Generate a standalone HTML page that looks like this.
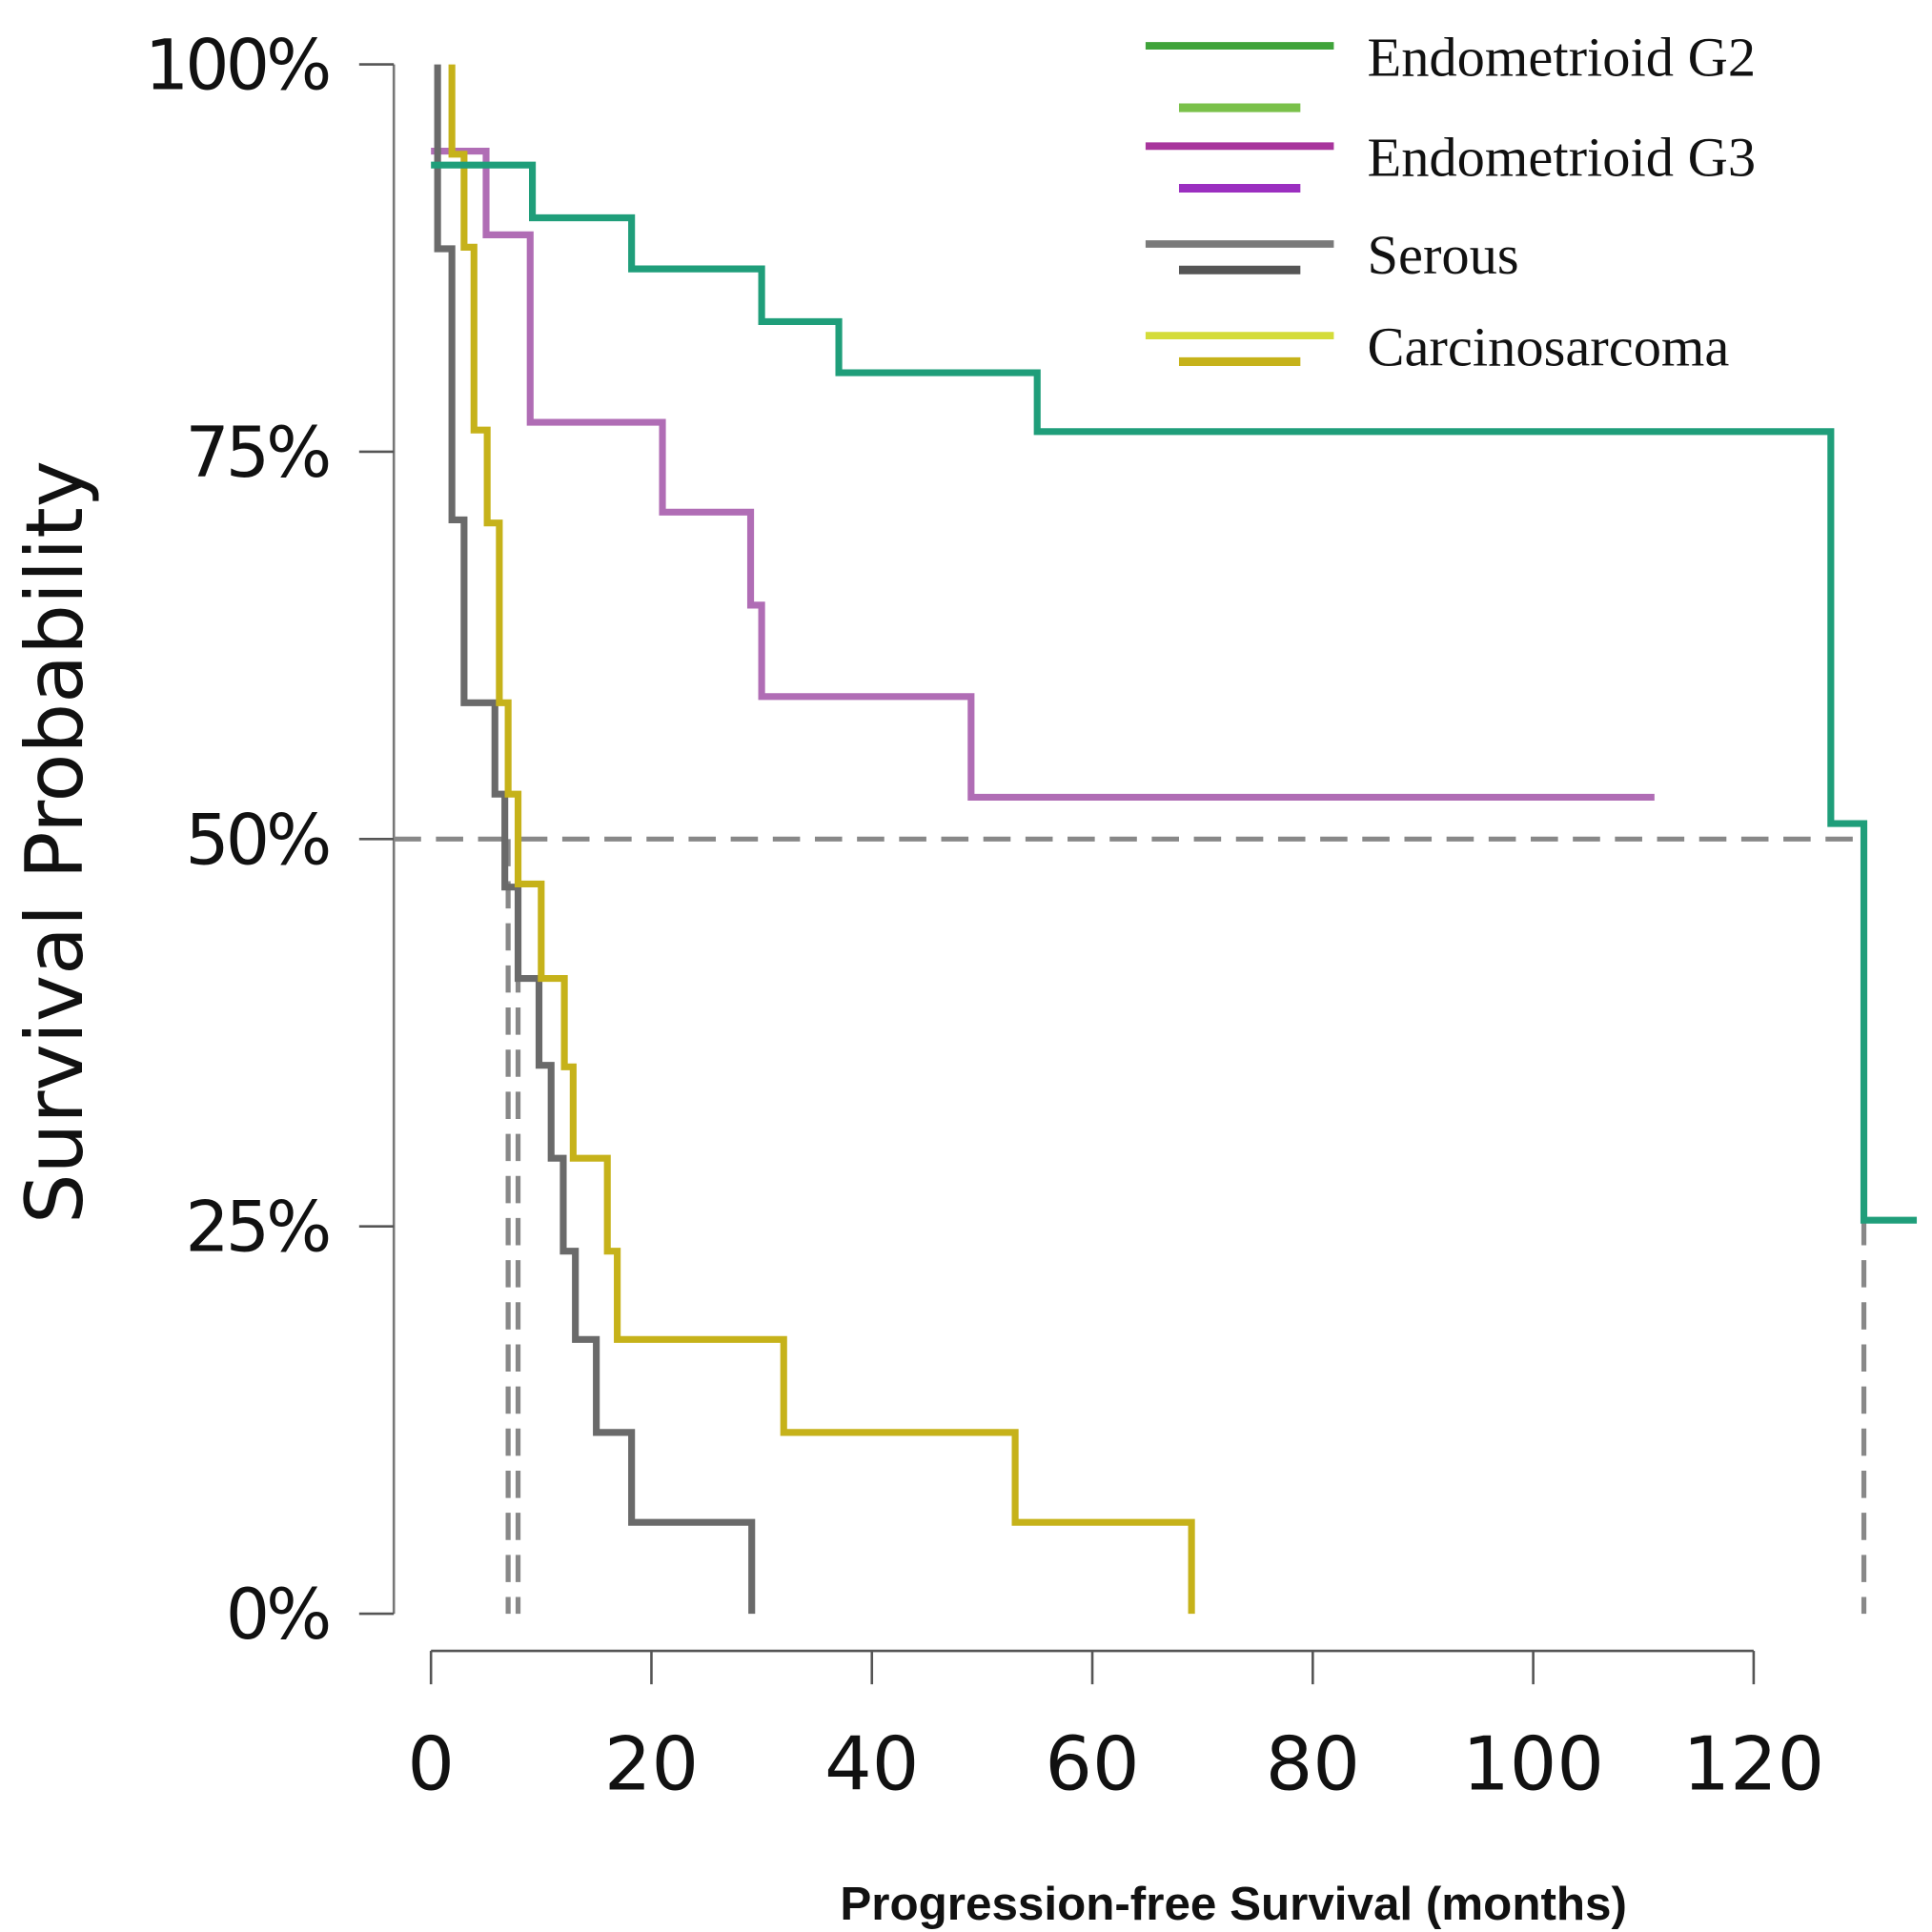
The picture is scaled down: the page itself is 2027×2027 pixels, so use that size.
<!DOCTYPE html>
<html><head><meta charset="utf-8"><style>
html,body{margin:0;padding:0;background:#fff}
svg{display:block}
</style></head><body>
<svg id="chart" width="2027" height="2027" viewBox="0 0 1560 1560" xmlns="http://www.w3.org/2000/svg">
<rect width="1560" height="1560" fill="#fff"/>
<g id="axes"></g>
<g id="series"></g>
<g id="legend"></g>
<text transform="translate(66,680) rotate(-90)" text-anchor="middle" font-family="DejaVu Sans, Liberation Sans, sans-serif" font-size="64" fill="#111">Survival Probability</text>
<text x="996" y="1550" text-anchor="middle" font-family="Liberation Sans, sans-serif" font-weight="bold" font-size="38" fill="#111">Progression-free Survival (months)</text>
</svg>
<script>
const xTicks=[0,20,40,60,80,100,120];
const yTicks=[0,25,50,75,100];
const yTickLabels=["0%","25%","50%","75%","100%"];
const g2Times=[0,9.2,18.2,30,37,55,127,130,134.8];
const g2Surv=[93.5,90.1,86.8,83.4,80.1,76.3,51,25.4,25.4];
const g3Times=[0,5,9,21,29,30,49,111];
const g3Surv=[94.4,89.0,76.9,71.1,65.1,59.2,52.7,52.7];
const serTimes=[0.6,1.9,3,5.8,6.7,7.9,9.8,10.9,12,13.1,15,18.2,29.1];
const serSurv=[88.1,70.6,58.8,52.9,46.9,41,35.4,29.4,23.4,17.7,11.7,5.9,0];
const carTimes=[1.9,3,3.9,5.1,6.2,7,7.9,10,12.1,12.9,16,16.9,32,53,69];
const carSurv=[94.2,88.2,76.4,70.4,58.8,52.9,47.1,41,35.3,29.4,23.4,17.7,11.7,5.9,0];
const medians=[7,7.9,130];
const NS="http://www.w3.org/2000/svg";
const X=m=>348+m*8.9, Y=p=>1303-p*12.51;
function mk(tag,attrs,parent){const e=document.createElementNS(NS,tag);for(const k in attrs)e.setAttribute(k,attrs[k]);parent.appendChild(e);return e;}
const axes=document.getElementById('axes');
let a=mk('line',{x1:318,y1:Y(100),x2:318,y2:Y(0),stroke:'#777','stroke-width':2},axes);


yTicks.forEach((v,i)=>{
 const t=mk('line',{x1:290,x2:318,y1:Y(v),y2:Y(v),stroke:'#555','stroke-width':2},axes);
 
 
 const l=mk('text',{x:265,y:Y(v)+20,'text-anchor':'end','font-family':'DejaVu Sans, Liberation Sans, sans-serif','font-size':56,'letter-spacing':-3,fill:'#111'},axes);
 l.textContent=yTickLabels[i];
 
 
});
a=mk('line',{x1:X(0),y1:1333,x2:X(120),y2:1333,stroke:'#555','stroke-width':2},axes);


xTicks.forEach(v=>{
 const t=mk('line',{x1:X(v),x2:X(v),y1:1333,y2:1360,stroke:'#555','stroke-width':2},axes);
 
 
 const l=mk('text',{x:X(v),y:1445,'text-anchor':'middle','font-family':'DejaVu Sans, Liberation Sans, sans-serif','font-size':60,fill:'#111'},axes);
 l.textContent=v;
 
 
});
const sg=document.getElementById('series');
let d=mk('line',{x1:318,x2:X(medians[2]),y1:Y(50),y2:Y(50),stroke:'#888','stroke-width':4,'stroke-dasharray':'22 12'},sg);


medians.forEach(m=>{
 const v=mk('line',{x1:X(m),x2:X(m),y1:Y(50),y2:Y(0),stroke:'#888','stroke-width':4,'stroke-dasharray':'22 12'},sg);
 
 
});
function km(times,surv,startT,startS,color,name){
 let p='M'+X(startT)+','+Y(startS);
 let prev=startS;
 times.forEach((t,i)=>{p+=' L'+X(t)+','+Y(prev)+' L'+X(t)+','+Y(surv[i]);prev=surv[i];});
 const e=mk('path',{d:p,fill:'none',stroke:color,'stroke-width':5.5,'stroke-linejoin':'miter'},sg);
 
 
}
km(g3Times.slice(1),g3Surv.slice(1),g3Times[0],g3Surv[0],'#b06db5','endometrioid-g3-curve');
km(serTimes,serSurv,0.6,100,'#6a6a6a','serous-curve');
km(carTimes,carSurv,1.9,100,'#c6b21a','carcinosarcoma-curve');
km(g2Times.slice(1),g2Surv.slice(1),g2Times[0],g2Surv[0],'#1f9e7a','endometrioid-g2-curve');
const lg=document.getElementById('legend');
const legNames=["Endometrioid G2","Endometrioid G3","Serous","Carcinosarcoma"];
const legC1=['#3fa33a','#a8359c','#7a7a7a','#d4dc3a'];
const legC2=['#7ac14a','#9b2fc0','#555','#c6b21a'];
const legY1=[37,118,197,271];
const legY2=[87,152,218,292];
legNames.forEach((n,i)=>{
 const l1=mk('line',{x1:925,x2:1077,y1:legY1[i],y2:legY1[i],stroke:legC1[i],'stroke-width':6},lg);
 
 
 const l2=mk('line',{x1:952,x2:1050,y1:legY2[i],y2:legY2[i],stroke:legC2[i],'stroke-width':7},lg);
 
 
 const t=mk('text',{x:1104,y:legY1[i]+24,'font-family':'Liberation Serif, serif','font-size':45,fill:'#111'},lg);
 t.textContent=n;
 
 
});
</script>
</body></html>
